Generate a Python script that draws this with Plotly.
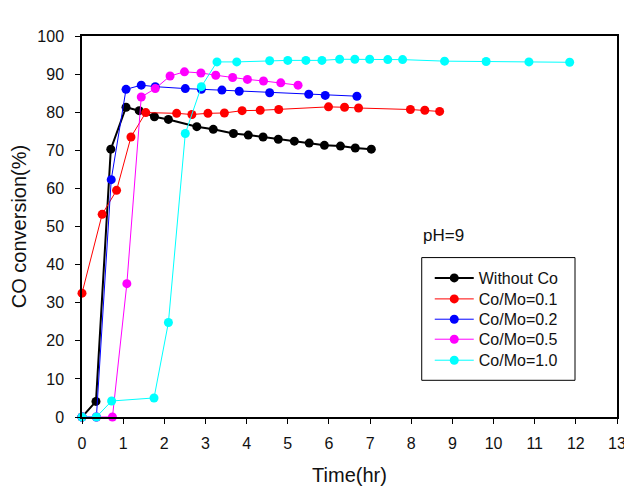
import plotly.graph_objects as go

# ---- data ----
t_without = [0, 0.34, 0.70, 1.07, 1.39, 1.76, 2.10, 2.79, 3.19, 3.68, 4.04, 4.40, 4.77, 5.16, 5.52, 5.89, 6.28, 6.64, 7.03]
v_without = [0, 4.1, 70.3, 81.3, 80.4, 78.8, 78.1, 76.2, 75.5, 74.4, 74.0, 73.5, 72.9, 72.4, 71.9, 71.3, 71.1, 70.6, 70.3]

t_01 = [0, 0.49, 0.84, 1.19, 1.55, 2.30, 2.67, 3.06, 3.46, 3.89, 4.33, 4.78, 5.99, 6.38, 6.72, 7.98, 8.33, 8.69]
v_01 = [32.5, 53.2, 59.5, 73.5, 79.9, 79.7, 79.4, 79.7, 79.8, 80.4, 80.5, 80.7, 81.4, 81.3, 81.1, 80.7, 80.5, 80.2]

t_02 = [0, 0.35, 0.71, 1.07, 1.44, 1.78, 2.51, 2.90, 3.40, 3.82, 4.56, 5.51, 5.91, 6.68]
v_02 = [0, 0, 62.3, 86.0, 87.1, 86.7, 86.2, 86.0, 85.8, 85.5, 85.1, 84.7, 84.4, 84.2]

t_05 = [0, 0.35, 0.74, 1.09, 1.44, 1.78, 2.14, 2.49, 2.89, 3.25, 3.66, 4.02, 4.41, 4.83, 5.25]
v_05 = [0, 0, 0, 35.0, 84.0, 86.2, 89.5, 90.6, 90.3, 89.7, 89.1, 88.6, 88.2, 87.7, 87.1]

t_10 = [0, 0.35, 0.72, 1.75, 2.10, 2.51, 2.90, 3.28, 3.76, 4.56, 5.00, 5.44, 5.83, 6.26, 6.63, 6.99, 7.43, 7.79, 8.81, 9.82, 10.86, 11.85]
v_10 = [0, 0, 4.2, 5.0, 24.8, 74.4, 86.7, 93.2, 93.2, 93.5, 93.6, 93.6, 93.6, 93.9, 93.9, 93.9, 93.8, 93.8, 93.4, 93.3, 93.2, 93.1]

series_names = ["Without Co", "Co/Mo=0.1", "Co/Mo=0.2", "Co/Mo=0.5", "Co/Mo=1.0"]
x_ticks = list(range(0, 14))
y_ticks = list(range(0, 101, 10))

FONT = "Arial, Liberation Sans, sans-serif"
TXT = "#111111"

series = [
    (t_without, v_without, "#000000", 2),
    (t_01, v_01, "#ff0000", 1),
    (t_02, v_02, "#0000ff", 1),
    (t_05, v_05, "#ff00ff", 1),
    (t_10, v_10, "#00ffff", 1),
]

# one small legend per entry so the row spacing can match the reference
legend_ids = ["legend", "legend2", "legend3", "legend4", "legend5"]
legend_y = [0.3648, 0.3097, 0.2564, 0.2039, 0.1488]

fig = go.Figure()
for name, lid, (xs, ys, col, lw) in zip(series_names, legend_ids, series):
    fig.add_trace(go.Scatter(
        x=xs, y=ys, name=name, mode="lines+markers",
        line=dict(color=col, width=lw),
        marker=dict(color=col, size=9, line=dict(width=0)),
        cliponaxis=False, legend=lid,
    ))

axis_common = dict(
    showline=True, linecolor="black", linewidth=1.5, mirror=True,
    ticks="outside", ticklen=5, tickcolor="black", tickwidth=1,
    showgrid=False, zeroline=False, automargin=False,
    tickfont=dict(family=FONT, size=16, color=TXT),
)

fig.update_xaxes(range=[0, 13], tickvals=x_ticks, ticktext=[str(v) for v in x_ticks],
                 ticklabelstandoff=6,
                 title=dict(text="Time(hr)", font=dict(family=FONT, size=20, color=TXT), standoff=17),
                 **axis_common)
fig.update_yaxes(range=[0, 100], tickvals=y_ticks, ticktext=[str(v) for v in y_ticks],
                 ticklabelstandoff=8,
                 title=dict(text="CO conversion(%)", font=dict(family=FONT, size=20, color=TXT), standoff=23),
                 **axis_common)

fig.add_annotation(text="pH=9", xref="paper", yref="paper", x=0.633, y=0.477,
                   xanchor="left", yanchor="middle", showarrow=False,
                   font=dict(family=FONT, size=17, color=TXT))

# legend frame
fig.add_shape(type="rect", xref="paper", yref="paper",
              x0=0.635, x1=0.9215, y0=0.0963, y1=0.4184,
              line=dict(color="black", width=1), fillcolor="rgba(0,0,0,0)", layer="above")

legend_layouts = {}
for lid, ly in zip(legend_ids, legend_y):
    legend_layouts[lid] = dict(
        x=0.650, y=ly, xanchor="left", yanchor="middle",
        bgcolor="rgba(0,0,0,0)", borderwidth=0, itemwidth=39,
        font=dict(family=FONT, size=16, color=TXT),
    )

# the page body has an 8px default margin, so the figure is offset by 8px
fig.update_layout(
    width=624, height=491,
    margin=dict(l=74, r=15, t=28, b=82),
    paper_bgcolor="white", plot_bgcolor="white",
    font=dict(family=FONT, size=14, color=TXT),
    showlegend=True,
    **legend_layouts,
)

fig.write_html("out.html")
